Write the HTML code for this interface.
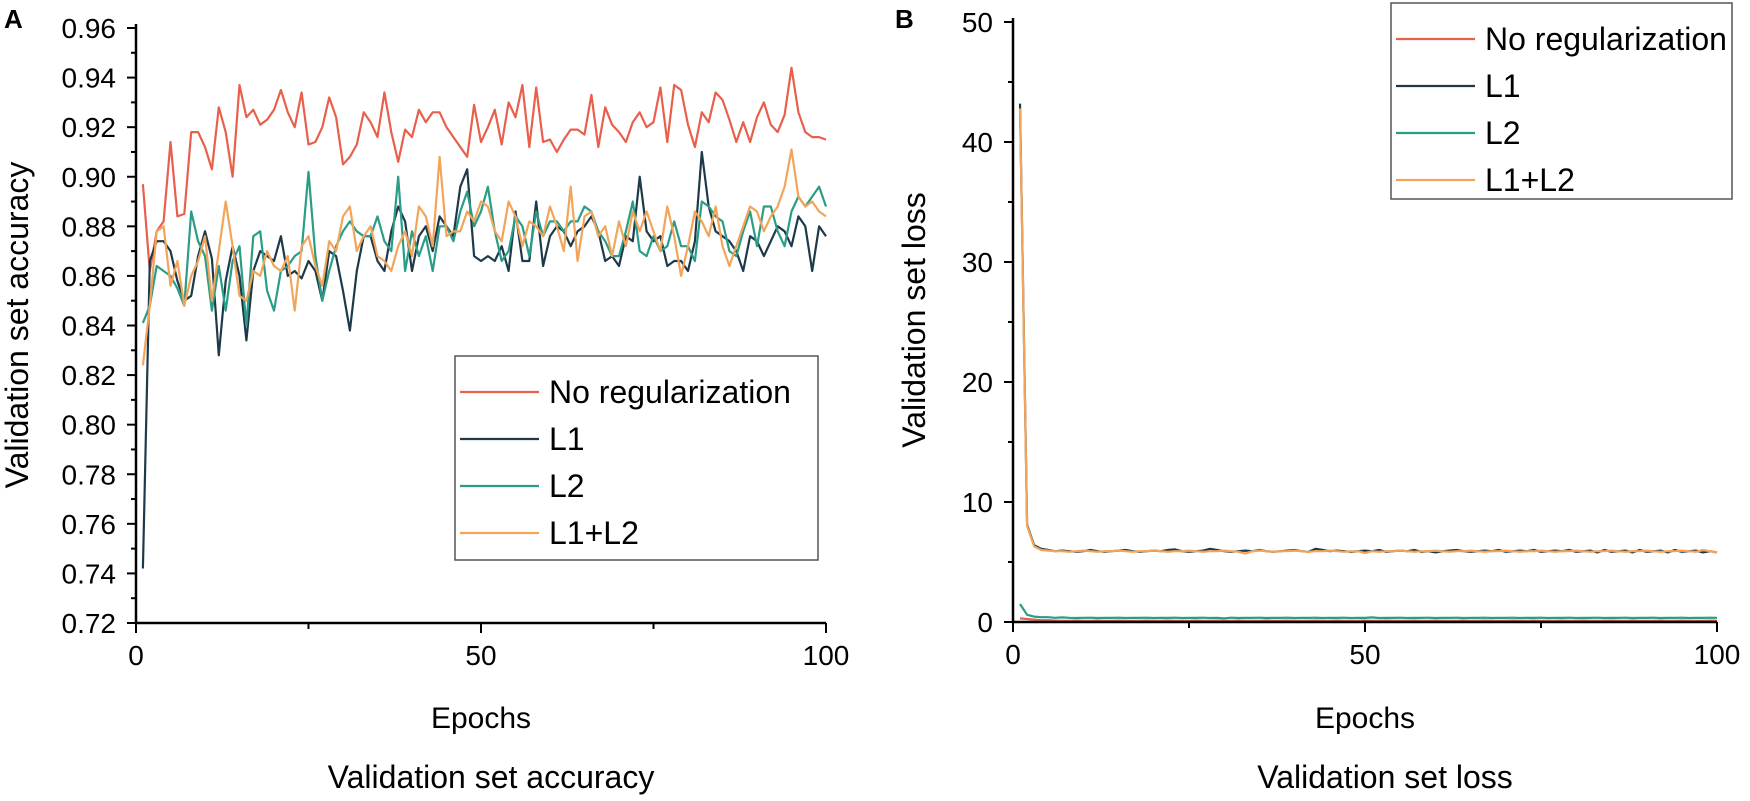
<!DOCTYPE html>
<html><head><meta charset="utf-8"><style>
html,body{margin:0;padding:0;background:#fff;}
svg{display:block;font-family:"Liberation Sans",sans-serif;}
</style></head><body>
<svg id="c" width="1750" height="801" viewBox="0 0 1750 801"></svg>
<script>
const epochs=[];for(let i=1;i<=100;i++)epochs.push(i);
const accNoReg=[0.897,0.862,0.878,0.882,0.914,0.884,0.885,0.918,0.918,0.912,0.903,0.928,0.918,0.900,0.937,0.924,0.927,0.921,0.923,0.927,0.935,0.926,0.920,0.934,0.913,0.914,0.920,0.932,0.924,0.905,0.908,0.913,0.926,0.922,0.916,0.934,0.918,0.906,0.919,0.916,0.927,0.922,0.926,0.926,0.920,0.916,0.912,0.908,0.929,0.914,0.920,0.927,0.913,0.930,0.924,0.937,0.912,0.936,0.914,0.915,0.910,0.915,0.919,0.919,0.917,0.933,0.912,0.928,0.921,0.918,0.914,0.922,0.926,0.920,0.922,0.936,0.914,0.937,0.935,0.921,0.912,0.926,0.922,0.934,0.931,0.923,0.914,0.922,0.914,0.924,0.930,0.921,0.918,0.925,0.944,0.926,0.918,0.916,0.916,0.915];
const accL1=[0.742,0.866,0.874,0.874,0.870,0.858,0.850,0.852,0.868,0.878,0.867,0.828,0.858,0.872,0.860,0.834,0.862,0.870,0.868,0.866,0.876,0.860,0.862,0.859,0.866,0.862,0.850,0.870,0.868,0.854,0.838,0.862,0.876,0.876,0.866,0.862,0.878,0.888,0.882,0.862,0.876,0.880,0.870,0.884,0.880,0.876,0.896,0.903,0.868,0.866,0.868,0.866,0.872,0.862,0.886,0.866,0.866,0.890,0.864,0.876,0.880,0.878,0.872,0.878,0.880,0.884,0.878,0.866,0.868,0.864,0.876,0.874,0.900,0.878,0.874,0.876,0.864,0.866,0.866,0.862,0.874,0.910,0.888,0.878,0.876,0.874,0.870,0.862,0.876,0.874,0.868,0.874,0.880,0.878,0.872,0.884,0.880,0.862,0.880,0.876];
const accL2=[0.841,0.848,0.864,0.862,0.860,0.855,0.848,0.886,0.874,0.868,0.846,0.864,0.846,0.866,0.872,0.840,0.876,0.878,0.854,0.846,0.862,0.864,0.868,0.870,0.902,0.868,0.850,0.862,0.872,0.878,0.882,0.878,0.876,0.876,0.884,0.874,0.870,0.900,0.862,0.878,0.868,0.876,0.862,0.880,0.880,0.874,0.886,0.894,0.880,0.886,0.896,0.878,0.866,0.870,0.884,0.880,0.868,0.886,0.876,0.882,0.882,0.878,0.882,0.882,0.888,0.886,0.878,0.874,0.868,0.868,0.878,0.890,0.870,0.868,0.876,0.870,0.872,0.882,0.872,0.872,0.866,0.890,0.888,0.884,0.882,0.870,0.868,0.878,0.886,0.872,0.888,0.888,0.878,0.872,0.886,0.892,0.888,0.892,0.896,0.888];
const accL1L2=[0.824,0.848,0.878,0.880,0.856,0.866,0.848,0.860,0.866,0.876,0.850,0.870,0.890,0.872,0.852,0.850,0.862,0.860,0.870,0.864,0.862,0.868,0.846,0.872,0.876,0.864,0.856,0.874,0.870,0.884,0.888,0.870,0.876,0.880,0.868,0.866,0.862,0.872,0.878,0.868,0.888,0.884,0.872,0.908,0.876,0.878,0.878,0.886,0.882,0.890,0.888,0.878,0.874,0.890,0.884,0.872,0.882,0.880,0.876,0.888,0.880,0.870,0.896,0.866,0.884,0.886,0.876,0.880,0.868,0.882,0.872,0.886,0.878,0.886,0.878,0.870,0.888,0.876,0.860,0.872,0.886,0.882,0.876,0.888,0.872,0.864,0.872,0.880,0.888,0.886,0.878,0.884,0.888,0.896,0.911,0.892,0.888,0.890,0.886,0.884];
const lossNoReg=[0.3,0.25,0.2,0.15,0.15,0.12,0.1,0.1,0.12,0.1,0.1,0.12,0.1,0.1,0.12,0.1,0.1,0.1,0.12,0.1,0.1,0.12,0.1,0.1,0.1,0.12,0.1,0.1,0.12,0.1,0.1,0.12,0.1,0.1,0.1,0.12,0.1,0.1,0.12,0.1,0.1,0.1,0.12,0.1,0.1,0.12,0.1,0.1,0.1,0.12,0.1,0.1,0.12,0.1,0.1,0.1,0.12,0.1,0.1,0.12,0.1,0.1,0.1,0.12,0.1,0.1,0.12,0.1,0.1,0.1,0.12,0.1,0.1,0.12,0.1,0.1,0.1,0.12,0.1,0.1,0.12,0.1,0.1,0.1,0.12,0.1,0.1,0.12,0.1,0.1,0.1,0.12,0.1,0.1,0.12,0.1,0.1,0.1,0.12,0.1];
const lossL1=[43.2,8.1,6.4,6.1,6.0,5.9,5.95,5.9,5.85,5.9,6.0,5.9,5.85,5.9,5.95,6.0,5.9,5.85,5.9,5.95,5.9,6.0,6.05,5.9,5.85,5.9,5.95,6.1,6.0,5.9,5.85,5.9,5.95,5.9,6.0,5.9,5.85,5.9,5.95,6.0,5.9,5.85,6.1,6.0,5.9,5.95,5.9,5.85,5.9,5.95,5.9,6.0,5.85,5.9,5.95,5.9,6.0,5.85,5.9,5.8,5.9,5.95,6.0,5.9,5.85,5.9,5.95,5.9,6.0,5.85,5.9,5.95,5.9,6.0,5.85,5.9,5.95,5.9,6.0,5.85,5.9,5.95,5.8,6.0,5.85,5.9,5.95,5.8,6.0,5.85,5.9,5.95,5.8,6.0,5.85,5.9,5.95,5.8,5.9,5.8];
const lossL2=[1.5,0.6,0.45,0.4,0.4,0.35,0.38,0.35,0.33,0.35,0.36,0.33,0.35,0.34,0.36,0.33,0.35,0.34,0.36,0.33,0.35,0.34,0.36,0.33,0.35,0.34,0.36,0.33,0.35,0.3,0.36,0.33,0.35,0.34,0.36,0.33,0.35,0.34,0.36,0.33,0.35,0.34,0.36,0.33,0.35,0.34,0.36,0.33,0.35,0.34,0.38,0.33,0.35,0.34,0.36,0.33,0.35,0.34,0.36,0.33,0.35,0.34,0.36,0.33,0.35,0.34,0.36,0.33,0.35,0.34,0.36,0.33,0.35,0.34,0.36,0.33,0.35,0.34,0.36,0.33,0.35,0.34,0.36,0.33,0.35,0.34,0.36,0.33,0.35,0.34,0.36,0.33,0.35,0.34,0.36,0.33,0.35,0.34,0.36,0.35];
const lossL1L2=[42.8,8.0,6.3,6.0,5.95,5.9,5.9,5.85,5.9,5.95,5.9,5.85,5.9,5.9,5.95,5.9,5.85,5.9,5.9,5.95,5.9,5.85,5.9,5.9,5.95,5.9,5.85,5.9,5.9,5.95,5.9,5.85,5.7,5.9,5.95,5.9,5.85,5.9,5.9,5.95,5.9,5.85,5.9,5.9,5.95,5.9,5.85,5.9,5.9,5.75,5.9,5.85,5.9,5.9,5.95,5.9,5.85,5.9,5.9,5.95,5.9,5.85,5.9,5.9,5.95,5.9,5.85,5.9,5.9,5.95,5.9,5.85,5.9,5.9,5.95,5.9,5.85,5.9,5.9,5.95,5.9,5.85,5.9,5.9,5.95,5.9,5.85,5.9,5.9,5.95,5.9,5.85,5.9,5.9,5.95,5.9,5.85,6.0,5.9,5.8];
const accTicks=["0.72","0.74","0.76","0.78","0.80","0.82","0.84","0.86","0.88","0.90","0.92","0.94","0.96"];
const lossTicks=["0","10","20","30","40","50"];
const xTicks=["0","50","100"];
const legendNames=["No regularization","L1","L2","L1+L2"];
const colors=["#e8604c","#1e3a4a","#2a9d86","#f2a55a"];

const svg=document.getElementById('c');
const NS='http://www.w3.org/2000/svg';
function mk(tag,attrs,parent){const e=document.createElementNS(NS,tag);for(const k in attrs)e.setAttribute(k,attrs[k]);(parent||svg).appendChild(e);return e;}
function txt(s,x,y,size,anchor,parent,extra){const t=mk('text',Object.assign({x:x,y:y,'font-size':size,'text-anchor':anchor||'start',fill:'#000'},extra||{}),parent);t.textContent=s;return t;}

function panel(cfg){
  const g=mk('g',{});
  
  
  const xs=v=>cfg.x0+(v/100)*(cfg.x1-cfg.x0);
  const ys=v=>cfg.yb+(v-cfg.ymin)/(cfg.ymax-cfg.ymin)*(cfg.yt-cfg.yb);
  cfg.series.forEach((s,i)=>{
    const d=s.map((v,j)=>(j?'L':'M')+xs(epochs[j]).toFixed(1)+' '+ys(v).toFixed(1)).join(' ');
    const p=mk('path',{d:d,fill:'none',stroke:colors[i],'stroke-width':2.2,'stroke-linejoin':'round'},g);
    
    
  });
  const ax=mk('path',{d:`M${cfg.x0} ${cfg.yt-4} L${cfg.x0} ${cfg.yb} L${cfg.x1} ${cfg.yb}`,fill:'none',stroke:'#000','stroke-width':2.5},g);
  
  
  const yt=cfg.yTicks;
  yt.forEach((lab,i)=>{
    const v=cfg.ymin+i*cfg.ystep;const y=ys(v);
    mk('line',{x1:cfg.x0-9,x2:cfg.x0,y1:y,y2:y,stroke:'#000','stroke-width':2},g);
    if(i<yt.length-1){const ym=ys(v+cfg.ystep/2);mk('line',{x1:cfg.x0-5,x2:cfg.x0,y1:ym,y2:ym,stroke:'#000','stroke-width':2},g);}
    const t=txt(lab,cfg.x0-20,y+10,28,'end',g);
    
    
  });
  [0,25,50,75,100].forEach(v=>{
    const x=xs(v);const major=v%50===0;
    mk('line',{x1:x,x2:x,y1:cfg.yb,y2:cfg.yb+(major?10:6),stroke:'#000','stroke-width':2},g);
  });
  xTicks.forEach(lab=>{
    const t=txt(lab,xs(+lab),cfg.yb+42,28,'middle',g);
    
    
  });
  const xt=txt('Epochs',(cfg.x0+cfg.x1)/2,728,30,'middle',g);
  
  
  const cap=txt(cfg.caption,(cfg.x0+cfg.x1)/2+cfg.coff,788,32,'middle',g);
  
  
  const yl=txt(cfg.ytitle,0,0,32,'middle',g,{transform:`translate(${cfg.ytx},${cfg.yty}) rotate(-90)`});
  
  
  const pl=txt(cfg.letter,cfg.lx,cfg.ly,26,'start',g,{'font-weight':'bold'});
  
  
  const lg=mk('g',{},g);
  
  
  mk('rect',{x:cfg.lgx,y:cfg.lgy,width:cfg.lgw,height:cfg.lgh,fill:'#fff',stroke:'#555','stroke-width':1.5},lg);
  legendNames.forEach((n,i)=>{
    const y=cfg.lgy+cfg.r0+i*cfg.rs;
    const e=mk('g',{},lg);
    
    
    mk('line',{x1:cfg.lgx+5,x2:cfg.lgx+84,y1:y,y2:y,stroke:colors[i],'stroke-width':2.2},e);
    txt(n,cfg.lgx+94,y+11,32,'start',e);
  });
}
panel({name:'panel-a-accuracy',x0:136,x1:826,yb:623,yt:28,ymin:0.72,ymax:0.96,ystep:0.02,yTicks:accTicks,
  series:[accNoReg,accL1,accL2,accL1L2],caption:'Validation set accuracy',ytitle:'Validation set accuracy',ytx:28,yty:325,
  letter:'A',lx:4,ly:28,lgx:455,lgy:356,lgw:363,lgh:204,r0:36,rs:47,coff:10});
panel({name:'panel-b-loss',x0:1013,x1:1717,yb:622,yt:22,ymin:0,ymax:50,ystep:10,yTicks:lossTicks,
  series:[lossNoReg,lossL1,lossL2,lossL1L2],caption:'Validation set loss',ytitle:'Validation set loss',ytx:925,yty:320,
  letter:'B',lx:895,ly:28,lgx:1391,lgy:3,lgw:341,lgh:196,r0:36,rs:47,coff:20});
</script>
</body></html>
